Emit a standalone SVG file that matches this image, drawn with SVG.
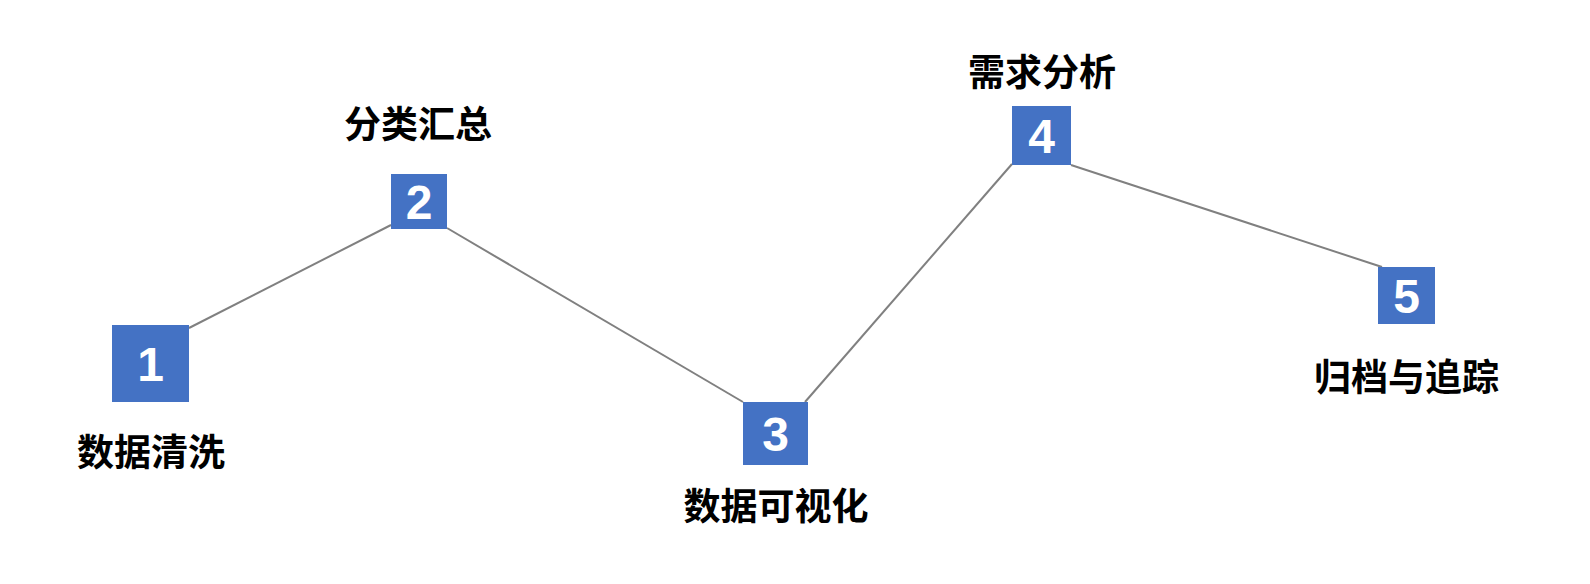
<svg xmlns="http://www.w3.org/2000/svg" width="1590" height="584" viewBox="0 0 1590 584">
<style>
.box{fill:#4472C4}
.num{font-family:"Liberation Sans",Arial,sans-serif;font-weight:bold;font-size:48px;fill:#ffffff;text-anchor:middle;dominant-baseline:central}
.lbl{font-family:"Noto Sans CJK SC","Noto Sans",sans-serif;font-weight:bold;font-size:37px;fill:#000000;text-anchor:middle;dominant-baseline:central}
.conn{stroke:#808080;stroke-width:2;fill:none}
</style>
<rect width="1590" height="584" fill="#ffffff"/>
<g id="connectors">
<line class="conn" x1="189" y1="328" x2="391" y2="225"/>
<line class="conn" x1="447" y1="228" x2="743" y2="402"/>
<line class="conn" x1="805" y1="402" x2="1012" y2="164"/>
<line class="conn" x1="1071" y1="165" x2="1382" y2="267"/>
</g>
<g id="node1">
<rect class="box" x="112" y="325" width="77" height="77"/>
<text class="num" x="150.5" y="364" font-size="50">1</text>
<text class="lbl" x="151" y="450">数据清洗</text>
</g>
<g id="node2">
<rect class="box" x="391" y="174" width="56" height="55"/>
<text class="num" x="419" y="202">2</text>
<text class="lbl" x="418" y="122">分类汇总</text>
</g>
<g id="node3">
<rect class="box" x="743" y="402" width="65" height="63"/>
<text class="num" x="775.5" y="434">3</text>
<text class="lbl" x="776" y="504">数据可视化</text>
</g>
<g id="node4">
<rect class="box" x="1012" y="106" width="59" height="59"/>
<text class="num" x="1041.5" y="136">4</text>
<text class="lbl" x="1042" y="70">需求分析</text>
</g>
<g id="node5">
<rect class="box" x="1378" y="267" width="57" height="57"/>
<text class="num" x="1406.5" y="296">5</text>
<text class="lbl" x="1406.5" y="375">归档与追踪</text>
</g>
</svg>
